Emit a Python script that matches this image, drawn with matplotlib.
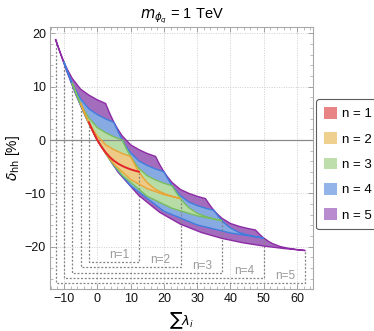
import numpy as np
import matplotlib
matplotlib.use("Agg")
import matplotlib.pyplot as plt
from matplotlib.patches import Patch
from matplotlib.ticker import MultipleLocator

plt.rcParams['font.family'] = ['Liberation Sans', 'DejaVu Sans']
plt.rcParams['mathtext.fontset'] = 'dejavusans'

# upper / lower boundaries of each region (x = sum lambda, y = delta_hh %)
n5_top_x = [-12.5, -11.25, -10, -8.75, -7.5, -5, -2.5, 0, 2.5,
            3.75, 5, 6.25, 7.5, 10, 12.5, 15, 17.5,
            18.75, 20, 21.25, 22.5, 25, 27.5, 30, 32.5,
            33.75, 35, 36.25, 37.5, 40, 42.5, 45, 47.5,
            48.75, 50, 51.25, 52.5, 55, 57.5, 60, 62.5]
n5_top_y = [18.82, 16.58, 14.60, 12.95, 11.53, 9.53, 8.41, 7.54, 6.85,
            4.97, 3.31, 1.94, 0.76, -0.89, -1.81, -2.53, -3.09,
            -4.62, -5.95, -7.05, -7.99, -9.29, -10.01, -10.56, -11.0,
            -12.17, -13.18, -14.01, -14.71, -15.66, -16.18, -16.57, -16.88,
            -17.70, -18.39, -18.94, -19.40, -20.0, -20.32, -20.55, -20.74]
n5_low_x = [-12.5, -9.375, -6.25, -3.125, 0, 6.25, 12.5, 18.75, 25,
            31.25, 37.5, 43.75, 50, 56.25, 62.5]
n5_low_y = [18.82, 13.21, 8.24, 3.85, 0, -6.04, -10.42, -13.57, -15.79,
            -17.35, -18.46, -19.28, -19.89, -20.37, -20.74]

n4_top_x = [-10, -8.75, -7.5, -6.25, -5, -2.5, 0, 2.5, 5,
            6.25, 7.5, 8.75, 10, 12.5, 15, 17.5, 20,
            21.25, 22.5, 23.75, 25, 27.5, 30, 32.5, 35,
            36.25, 37.5, 38.75, 40, 42.5, 45, 47.5, 50]
n4_top_y = [14.60, 12.48, 10.61, 9.06, 7.71, 5.83, 4.78, 3.96, 3.31,
            1.55, 0, -1.28, -2.38, -3.92, -4.77, -5.43, -5.95,
            -7.36, -8.59, -9.59, -10.45, -11.64, -12.29, -12.79, -13.18,
            -14.24, -15.15, -15.88, -16.49, -17.33, -17.78, -18.13, -18.39]
n4_low_x = [-10, -7.5, -5, -2.5, 0, 5, 10, 20, 30, 40, 50]
n4_low_y = [14.60, 10.32, 6.49, 3.06, 0, -4.90, -8.59, -13.36, -15.93, -17.44, -18.39]

n3_top_x = [-7.5, -6.25, -5, -3.75, -2.5, 0, 2.5, 5, 7.5,
            8.75, 10, 11.25, 12.5, 15, 17.5, 20, 22.5,
            23.75, 25, 26.25, 27.5, 30, 32.5, 35, 37.5]
n3_top_y = [10.61, 8.61, 6.85, 5.39, 4.12, 2.36, 1.37, 0.6, 0,
            -1.65, -3.09, -4.28, -5.30, -6.71, -7.50, -8.11, -8.59,
            -9.88, -11.0, -11.91, -12.69, -13.76, -14.35, -14.79, -15.15]
n3_low_x = [-7.5, -5.625, -3.75, -1.875, 0, 3.75, 7.5, 15, 22.5, 30, 37.5]
n3_low_y = [10.61, 7.56, 4.79, 2.27, 0, -3.73, -6.63, -10.57, -12.82, -14.22, -15.15]

n2_top_x = [-5, -3.75, -2.5, -1.25, 0, 2.5, 5, 7.5, 10,
            11.25, 12.5, 13.75, 15, 17.5, 20, 22.5, 25]
n2_top_y = [6.85, 4.97, 3.31, 1.94, 0.76, -0.89, -1.81, -2.53, -3.09,
            -4.62, -5.95, -7.05, -7.99, -9.29, -10.01, -10.56, -11.0]
n2_low_x = [-5, -3.75, -2.5, -1.25, 0, 2.5, 5, 10, 15, 20, 25]
n2_low_y = [6.85, 4.92, 3.14, 1.50, 0, -2.53, -4.55, -7.41, -9.13, -10.24, -11.0]

n1_x = [-2.5, -1.875, -1.25, -0.625, 0, 1.25, 2.5, 3.75, 5,
        6.25, 7.5, 8.75, 10, 11.25, 12.5]
n1_y = [3.31, 2.40, 1.55, 0.75, 0, -1.28, -2.34, -3.20, -3.89,
        -4.43, -4.86, -5.21, -5.50, -5.74, -5.95]

box_left = [-2.5, -5, -7.5, -10, -12.5]
box_right = [12.5, 25, 37.5, 50, 62.5]
box_bottom = [-22.9, -23.9, -24.9, -25.9, -26.9]
labels = ['n = 1', 'n = 2', 'n = 3', 'n = 4', 'n = 5']
box_text = ['n=1', 'n=2', 'n=3', 'n=4', 'n=5']

fill_cols = ['#e3242b', '#edca86', '#b8dca5', '#88aae3', '#a46cbc']
edge_cols = ['#e3242b', '#e8a535', '#78bd5e', '#3f7ddd', '#8c2ba5']
legend_cols = ['#e98484', '#efd08e', '#bedeac', '#92b4e8', '#b98bcf']

fig = plt.figure(figsize=(3.74, 3.31), dpi=100)
ax = fig.add_axes([50 / 374, 1 - 289 / 331, 263 / 374, 262 / 331])

regions = [(n5_top_x, n5_top_y, n5_low_x, n5_low_y),
           (n4_top_x, n4_top_y, n4_low_x, n4_low_y),
           (n3_top_x, n3_top_y, n3_low_x, n3_low_y),
           (n2_top_x, n2_top_y, n2_low_x, n2_low_y)]
for i, (tx, ty, lx, ly) in enumerate(regions):
    k = 4 - i
    px = list(tx) + list(lx[::-1])
    py = list(ty) + list(ly[::-1])
    ax.fill(px, py, facecolor=fill_cols[k], edgecolor='none', zorder=2 + i * 0.1)
    ax.plot(px, py, color=edge_cols[k], lw=1.0, zorder=4 + i * 0.1,
            solid_joinstyle='miter')
ax.plot(n1_x, n1_y, color=edge_cols[0], lw=1.4, zorder=5)

# dashed boxes marking the lambda range for each n
starts = [n1_y[0], n2_top_y[0], n3_top_y[0], n4_top_y[0], n5_top_y[0]]
ends = [n1_y[-1], n2_top_y[-1], n3_top_y[-1], n4_top_y[-1], n5_top_y[-1]]
for i in range(5):
    ax.plot([box_left[i], box_left[i], box_right[i], box_right[i]],
            [starts[i], box_bottom[i], box_bottom[i], ends[i]],
            color='#858585', lw=0.9, ls=(0, (1.6, 1.4)), zorder=3)
    ax.text(box_right[i] - 6, box_bottom[i] + 1.35, box_text[i],
            color='#9a9a9a', fontsize=8.5, ha='center', va='center', zorder=3)

ax.axhline(0, color='#8a8a8a', lw=0.9, zorder=3.5)

ax.set_xlim(-14.2, 64.8)
ax.set_ylim(-27.95, 21.2)
ax.xaxis.set_minor_locator(MultipleLocator(2))
ax.yaxis.set_minor_locator(MultipleLocator(2))
ax.set_xticks(range(-10, 61, 10))
ax.set_xticklabels(['\u221210', '0', '10', '20', '30', '40', '50', '60'])
ax.set_yticks(range(-20, 21, 10))
ax.set_yticklabels(['\u221220', '\u221210', '0', '10', '20'])
ax.grid(True, which='major', color='#cfcfcf', lw=0.7, ls=(0, (1, 1.5)), zorder=0)
ax.tick_params(which='both', direction='in', top=True, right=True,
               color='#a0a0a0', labelsize=9, labelcolor='#111111', pad=3)
ax.tick_params(which='major', length=3.5, width=0.7)
ax.tick_params(which='minor', length=2, width=0.5)
for s in ax.spines.values():
    s.set_color('#a8a8a8')
    s.set_linewidth(0.8)

ax.set_title(r'$m_{\phi_q}$ = 1 TeV', fontsize=10.5, pad=6)
ax.set_xlabel('\u2211' + r'$\lambda_i$', fontsize=9.5, labelpad=4)
ax.set_ylabel(r'$\delta_{\rm hh}$ [%]', fontsize=10, labelpad=2)

handles = [Patch(facecolor=c, edgecolor='none') for c in legend_cols]
leg = fig.legend(handles, labels, loc='upper left',
                 bbox_to_anchor=(316 / 374, 1 - 99 / 331), fontsize=9.5,
                 frameon=True, fancybox=True, handlelength=1.0,
                 handleheight=1.0, labelspacing=0.9, handletextpad=0.4,
                 borderpad=0.6, borderaxespad=0)
leg.get_frame().set_edgecolor('#333333')
leg.get_frame().set_linewidth(0.8)

fig.savefig('out.png', dpi=100, facecolor='white')
